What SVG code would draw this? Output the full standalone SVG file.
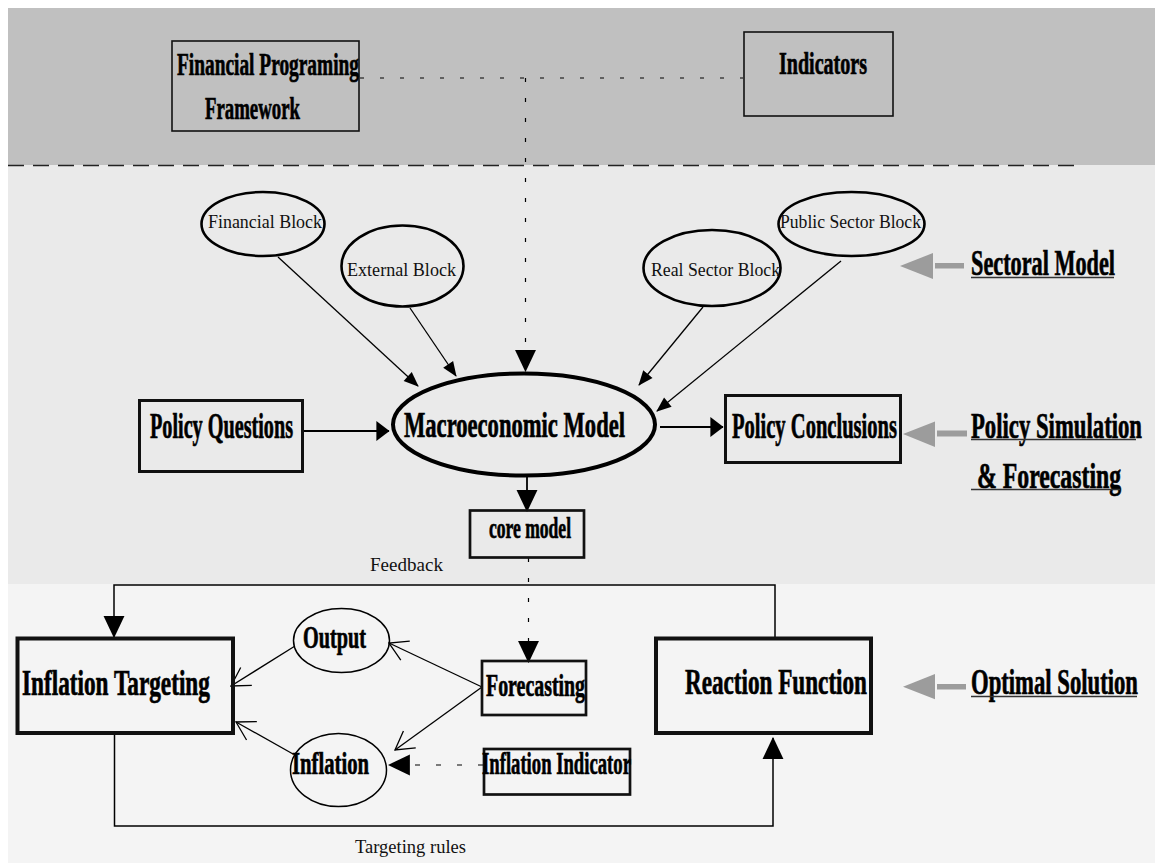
<svg xmlns="http://www.w3.org/2000/svg" width="1155" height="864" viewBox="0 0 1155 864">
<style>
.b{font-family:"Liberation Serif","Times New Roman",serif;font-weight:bold;fill:#000;stroke:#000;stroke-width:0.7}
.r{font-family:"Liberation Serif","Times New Roman",serif;font-weight:normal;fill:#111}
.box{fill:none;stroke:#111}
.ell{fill:none;stroke:#000}
.ln{fill:none;stroke:#000;stroke-width:1.3}
.dot{fill:none;stroke:#000;stroke-width:1.2;stroke-dasharray:4 16}
.ul{stroke:#333;stroke-width:1.5}
.garrow{fill:#9c9c9c}
</style>
<defs>
<marker id="big" markerUnits="userSpaceOnUse" markerWidth="22" markerHeight="22" viewBox="0 -10 20 20" refX="19" refY="0" orient="auto">
<path d="M0,-9.5 L20,0 L0,9.5 Z" fill="#000"/>
</marker>
<marker id="mid" markerUnits="userSpaceOnUse" markerWidth="14" markerHeight="22" viewBox="0 -10 12 20" refX="11.5" refY="0" orient="auto">
<path d="M0,-9 L12,0 L0,9 Z" fill="#000"/>
</marker>
<marker id="sm" markerUnits="userSpaceOnUse" markerWidth="16" markerHeight="14" viewBox="0 -7 15 14" refX="14" refY="0" orient="auto">
<path d="M0,-6 L15,0 L0,6 Z" fill="#000"/>
</marker>
<marker id="open" markerUnits="userSpaceOnUse" markerWidth="24" markerHeight="26" viewBox="-21 -13 23 26" refX="0" refY="0" orient="auto">
<path d="M-18,-10.5 L0,0 L-18,10.5" fill="none" stroke="#000" stroke-width="1.3"/>
</marker>
</defs>

<g id="background">
<rect x="8" y="8" width="1147" height="157" fill="#c0c0c0"/>
<rect x="8" y="165" width="1147" height="419" fill="#eaeaea"/>
<rect x="8" y="584" width="1147" height="279" fill="#f4f4f4"/>
<path d="M8,165.5 H1081" stroke="#222" stroke-width="1.5" stroke-dasharray="16 9" fill="none"/>
</g>

<g id="connectors">
<path class="dot" d="M360,78 H743"/>
<path class="dot" d="M525.5,78 V371" marker-end="url(#big)"/>
<path class="ln" d="M278,257 L418,386" marker-end="url(#sm)"/>
<path class="ln" d="M410,308 L456,376" marker-end="url(#sm)"/>
<path class="ln" d="M703,307 L639,385" marker-end="url(#sm)"/>
<path class="ln" d="M841,261 L657,411" marker-end="url(#sm)"/>
<path class="ln" style="stroke-width:2" d="M303,431 L389,431" marker-end="url(#mid)"/>
<path class="ln" style="stroke-width:2" d="M660,427 L723,427" marker-end="url(#mid)"/>
<path class="ln" style="stroke-width:1.8" d="M527,477 L527,511" marker-end="url(#big)"/>
<path class="dot" d="M528.5,558 V662" marker-end="url(#big)"/>
<path class="ln" style="stroke-width:1.5" d="M775,637 V585 H114 V637" marker-end="url(#big)"/>
<path class="ln" style="stroke-width:1.5" d="M114.5,735 V826 H773 V738" marker-end="url(#big)"/>
<path class="ln" d="M295,646 L231,686" marker-end="url(#open)"/>
<path class="ln" d="M482,687 L389,643" marker-end="url(#open)"/>
<path class="ln" d="M482,687 L395,750" marker-end="url(#open)"/>
<path class="ln" d="M293,754 L236,722" marker-end="url(#open)"/>
<path class="ln" style="stroke-width:1.2;stroke-dasharray:5 16" d="M483,765 L389,765" marker-end="url(#big)"/>
</g>

<g id="node-fpf">
<rect class="box" x="172" y="41" width="187" height="90" stroke-width="1.6"/>
<text class="b" transform="translate(177,75) scale(0.605,1)" font-size="32" textLength="300.8" lengthAdjust="spacingAndGlyphs">Financial Programing</text>
<text class="b" transform="translate(205,119) scale(0.587,1)" font-size="32" textLength="161.8" lengthAdjust="spacingAndGlyphs">Framework</text>
</g>

<g id="node-indicators">
<rect class="box" x="744" y="32" width="149" height="84" stroke-width="1.6"/>
<text class="b" transform="translate(779,74) scale(0.627,1)" font-size="32" textLength="140.4" lengthAdjust="spacingAndGlyphs">Indicators</text>
</g>

<g id="node-financial-block">
<ellipse class="ell" cx="263" cy="224" rx="61.5" ry="32" stroke-width="2.6"/>
<text class="r" x="208" y="228" font-size="18" textLength="114" lengthAdjust="spacingAndGlyphs">Financial Block</text>
</g>

<g id="node-external-block">
<ellipse class="ell" cx="402.5" cy="266" rx="61" ry="40.5" stroke-width="2.6"/>
<text class="r" x="347" y="276" font-size="18" textLength="109" lengthAdjust="spacingAndGlyphs">External Block</text>
</g>

<g id="node-real-sector-block">
<ellipse class="ell" cx="712" cy="268" rx="68.5" ry="38" stroke-width="2.6"/>
<text class="r" x="651" y="276" font-size="18" textLength="129" lengthAdjust="spacingAndGlyphs">Real Sector Block</text>
</g>

<g id="node-public-sector-block">
<ellipse class="ell" cx="851.5" cy="224" rx="73" ry="32" stroke-width="2.6"/>
<text class="r" x="780" y="228" font-size="18" textLength="141" lengthAdjust="spacingAndGlyphs">Public Sector Block</text>
</g>

<g id="label-sectoral-model">
<polygon class="garrow" points="900,266 933,253 933,279"/>
<rect class="garrow" x="935" y="263" width="29" height="5.5"/>
<text class="b" transform="translate(971,275) scale(0.618,1)" font-size="36" textLength="233" lengthAdjust="spacingAndGlyphs">Sectoral Model</text>
<line class="ul" x1="971" y1="277.5" x2="1114" y2="277.5"/>
</g>

<g id="node-policy-questions">
<rect class="box" x="139.5" y="400.5" width="163" height="71" stroke-width="3"/>
<text class="b" transform="translate(150,438) scale(0.561,1)" font-size="36" textLength="255" lengthAdjust="spacingAndGlyphs">Policy Questions</text>
</g>

<g id="node-macro-model">
<ellipse class="ell" cx="524" cy="424.5" rx="131" ry="51" stroke-width="4"/>
<text class="b" transform="translate(404,437) scale(0.614,1)" font-size="36" textLength="360" lengthAdjust="spacingAndGlyphs">Macroeconomic Model</text>
</g>

<g id="node-policy-conclusions">
<rect class="box" x="725.5" y="395.5" width="175" height="67" stroke-width="3"/>
<text class="b" transform="translate(732,438) scale(0.571,1)" font-size="36" textLength="289" lengthAdjust="spacingAndGlyphs">Policy Conclusions</text>
</g>

<g id="label-policy-simulation">
<polygon class="garrow" points="903,434 935,421.5 935,447"/>
<rect class="garrow" x="937" y="430.5" width="30" height="6"/>
<text class="b" transform="translate(971,438) scale(0.631,1)" font-size="36" textLength="271" lengthAdjust="spacingAndGlyphs">Policy Simulation</text>
<line class="ul" x1="971" y1="439.5" x2="1136" y2="439.5"/>
<text class="b" transform="translate(977,488) scale(0.658,1)" font-size="36" textLength="219" lengthAdjust="spacingAndGlyphs">&amp; Forecasting</text>
<line class="ul" x1="971" y1="489.5" x2="1120" y2="489.5"/>
</g>

<g id="node-core-model">
<rect class="box" x="470" y="510.5" width="114" height="47" stroke-width="2.7"/>
<text class="b" transform="translate(489,538) scale(0.582,1)" font-size="30" textLength="140.9" lengthAdjust="spacingAndGlyphs">core model</text>
</g>

<g id="label-feedback">
<text class="r" x="370" y="571" font-size="18" textLength="73" lengthAdjust="spacingAndGlyphs">Feedback</text>
</g>

<g id="node-inflation-targeting">
<rect class="box" x="17.5" y="638.5" width="215.5" height="94.5" stroke-width="4"/>
<text class="b" transform="translate(22,695) scale(0.637,1)" font-size="36" textLength="295" lengthAdjust="spacingAndGlyphs">Inflation Targeting</text>
</g>

<g id="node-output">
<ellipse class="ell" cx="341.5" cy="640.5" rx="48" ry="32" stroke-width="1.5"/>
<text class="b" transform="translate(303,648) scale(0.633,1)" font-size="32" textLength="99.5" lengthAdjust="spacingAndGlyphs">Output</text>
</g>

<g id="node-inflation">
<ellipse class="ell" cx="338.5" cy="770" rx="48" ry="36.5" stroke-width="1.5"/>
<text class="b" transform="translate(292,774) scale(0.646,1)" font-size="32" textLength="119.2" lengthAdjust="spacingAndGlyphs">Inflation</text>
</g>

<g id="node-forecasting">
<rect class="box" x="482" y="661" width="104" height="54" stroke-width="2.7"/>
<text class="b" transform="translate(486,696) scale(0.619,1)" font-size="32" textLength="160" lengthAdjust="spacingAndGlyphs">Forecasting</text>
</g>

<g id="node-inflation-indicator">
<rect class="box" x="484" y="749" width="146" height="45.5" stroke-width="2.7"/>
<text class="b" transform="translate(482,774) scale(0.584,1)" font-size="32" textLength="255" lengthAdjust="spacingAndGlyphs">Inflation Indicator</text>
</g>

<g id="node-reaction-function">
<rect class="box" x="656" y="638.5" width="215" height="94.5" stroke-width="4"/>
<text class="b" transform="translate(685,694) scale(0.643,1)" font-size="36" textLength="283" lengthAdjust="spacingAndGlyphs">Reaction Function</text>
</g>

<g id="label-optimal-solution">
<polygon class="garrow" points="903,686.7 935,674 935,699.3"/>
<rect class="garrow" x="937" y="684" width="29" height="5.5"/>
<text class="b" transform="translate(971,694) scale(0.630,1)" font-size="36" textLength="265" lengthAdjust="spacingAndGlyphs">Optimal Solution</text>
<line class="ul" x1="971" y1="696.5" x2="1137" y2="696.5"/>
</g>

<g id="label-targeting-rules">
<text class="r" x="355" y="853" font-size="18" textLength="111" lengthAdjust="spacingAndGlyphs">Targeting rules</text>
</g>
</svg>
